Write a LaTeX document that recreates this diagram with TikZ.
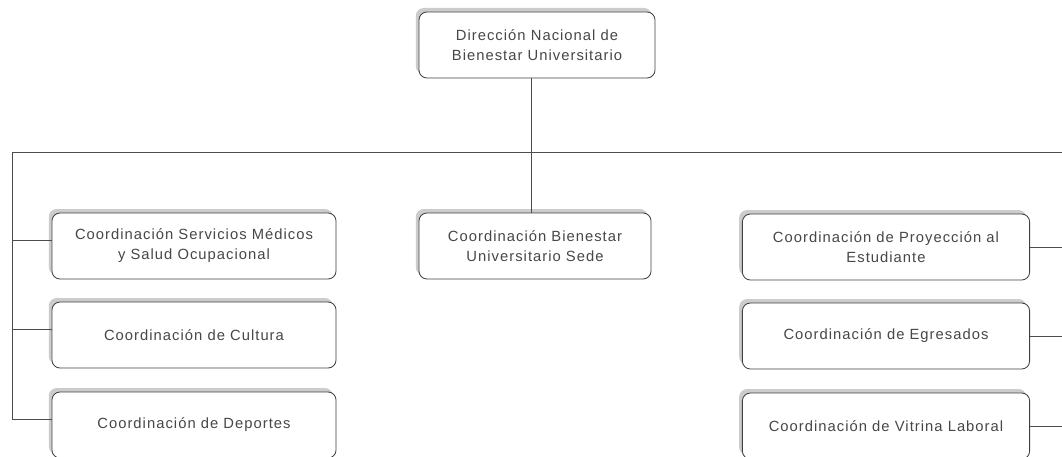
\documentclass[tikz,border=0pt]{standalone}
\usepackage{fontspec}
\setmainfont{Liberation Sans}[LetterSpace=7]
\usetikzlibrary{shadows}

\tikzset{
  unit/.style={draw=black!75, line width=0.6pt, rounded corners=0.2cm, fill=white,
    minimum height=1.65cm, align=center, text=black!72,
    font=\fontsize{10.5}{14.2}\selectfont,
    drop shadow={shadow xshift=-0.08cm, shadow yshift=0.1cm, fill=black!25, opacity=0.8}},
  link/.style={draw=black!70, line width=0.5pt}
}

\begin{document}
\begin{tikzpicture}[x=0.025cm,y=-0.025cm]

\useasboundingbox (0,0) rectangle (1062,456);

\node[unit, minimum width=5.9cm] (dir) at (537,45) {Dirección Nacional de\\Bienestar Universitario};
\node[unit, minimum width=5.8cm] (sede) at (535,246) {Coordinación Bienestar\\Universitario Sede};

\node[unit, minimum width=7.1cm] (medicos) at (194,246) {Coordinación Servicios Médicos\\y Salud Ocupacional};
\node[unit, minimum width=7.1cm] (cultura) at (194,335) {Coordinación de Cultura};
\node[unit, minimum width=7.1cm] (deportes) at (194,425) {Coordinación de Deportes};

\node[unit, minimum width=7.18cm] (proyeccion) at (886,247) {Coordinación de Proyección al\\Estudiante};
\node[unit, minimum width=7.18cm] (egresados) at (886,336) {Coordinación de Egresados};
\node[unit, minimum width=7.18cm] (vitrina) at (886,426) {Coordinación de Vitrina Laboral};

\coordinate (busL) at (12,152);
\coordinate (busR) at (1070,152);

\draw[link] (dir.south -| 531,0) -- (sede.north -| 531,0);
\draw[link] (busL) -- (busR);

\draw[link] (busL) |- ([yshift=0.15cm]deportes.west);
\draw[link] ([yshift=0.15cm]medicos.west) -- ([yshift=0.15cm]medicos.west -| busL);
\draw[link] ([yshift=0.15cm]cultura.west) -- ([yshift=0.15cm]cultura.west -| busL);

\draw[link] (busR) |- (vitrina.east);
\draw[link] (proyeccion.east) -- (proyeccion.east -| busR);
\draw[link] (egresados.east) -- (egresados.east -| busR);

\end{tikzpicture}
\end{document}
